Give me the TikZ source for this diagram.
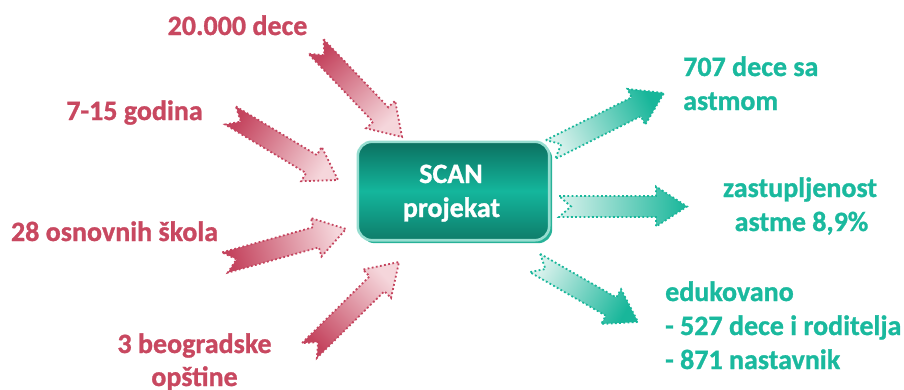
\documentclass[tikz,border=0pt]{standalone}
\usepackage{fontspec}
\setmainfont{Carlito}[BoldFont={Carlito Bold}, BoldFeatures={FakeBold=1}]
\usetikzlibrary{calc}

\definecolor{rosetext}{RGB}{200,72,96}
\definecolor{rosedark}{RGB}{196,68,94}
\definecolor{roselight}{RGB}{245,214,219}
\definecolor{tealtext}{RGB}{26,185,158}
\definecolor{tealdark}{RGB}{24,182,154}
\definecolor{teallight}{RGB}{216,241,236}
\definecolor{boxtop}{RGB}{11,112,96}
\definecolor{boxmid}{RGB}{20,182,156}
\definecolor{boxbot}{RGB}{14,124,106}
\definecolor{boxrim}{RGB}{150,221,208}
\definecolor{boxshade}{RGB}{40,178,152}

% notched block arrow: style, tail, tip, shading angle
\newcommand\notchedarrow[4]{%
  \coordinate (nb) at ($(#3)!31pt!(#2)$);
  \path[#1, shading angle=#4]
    ($(#2)!10.5pt!90:(#3)$) -- ($(nb)!10.5pt!90:(#3)$) -- ($(nb)!20pt!90:(#3)$)
    -- (#3)
    -- ($(nb)!20pt!-90:(#3)$) -- ($(nb)!10.5pt!-90:(#3)$) -- ($(#2)!10.5pt!-90:(#3)$)
    -- ($(#2)!12pt!(#3)$) -- cycle;
}

\begin{document}
\begin{tikzpicture}[x=1pt,y=-1pt,
  lbl/.style={inner sep=0pt, font=\fontsize{28}{34}\selectfont\bfseries},
  redlbl/.style={lbl, text=rosetext},
  teallbl/.style={lbl, text=tealtext},
  dotline/.style={line width=1.8pt, dash pattern=on 1.8pt off 2.4pt},
  inarrow/.style={dotline, draw=rosedark, bottom color=rosedark, top color=roselight},
  outarrow/.style={dotline, draw=tealdark, bottom color=teallight, top color=tealdark},
]
\useasboundingbox (0,0) rectangle (904,389);

% labels on the input side
\node[redlbl, anchor=base] (t20000) at (237.5,35) {20.000 dece};
\node[redlbl, anchor=base] (t715) at (134.5,120) {7-15 godina};
\node[redlbl, anchor=base] (t28) at (114.5,241) {28 osnovnih škola};
\node[redlbl, anchor=base] (t3a) at (194.5,353) {3 beogradske};
\node[redlbl, anchor=base] (t3b) at (194.5,386) {opštine};

% labels on the output side
\node[teallbl, anchor=base west] (t707a) at (683,76) {707 dece sa};
\node[teallbl, anchor=base west] (t707b) at (683,110) {astmom};
\node[teallbl, anchor=base] (tzas1) at (800,197) {zastupljenost};
\node[teallbl, anchor=base] (tzas2) at (801.5,231) {astme 8,9\%};
\node[teallbl, anchor=base west] (tedu1) at (665,301) {edukovano};
\node[teallbl, anchor=base west] (tedu2) at (665,335) {- 527 dece i roditelja};
\node[teallbl, anchor=base west] (tedu3) at (665,369) {- 871 nastavnik};

% central project box
\node[minimum width=191pt, minimum height=98pt, inner sep=0pt] (box) at (453.5,191) {};
\fill[boxshade, rounded corners=14pt]
  ($(box.south west)+(3,3)$) rectangle ($(box.north east)+(3,3)$);
\path[rounded corners=14pt, draw=boxrim, line width=2.6pt,
      top color=boxtop, bottom color=boxbot, middle color=boxmid]
  (box.south west) rectangle (box.north east);
\node[lbl, text=white, anchor=base] (scan1) at (451,183) {SCAN};
\node[lbl, text=white, anchor=base] (scan2) at (451.5,217) {projekat};

% arrow end points
\coordinate (a1s) at (316,46.5);  \coordinate (a1e) at (402,137);
\coordinate (a2s) at (230.5,115.5); \coordinate (a2e) at (338,180);
\coordinate (a3s) at (225,262.5); \coordinate (a3e) at (346,229);
\coordinate (a4s) at (309.5,350.5); \coordinate (a4e) at (399,262);
\coordinate (b1s) at (550.5,149.5); \coordinate (b1e) at (664,93);
\coordinate (b2s) at (559,206.5); \coordinate (b2e) at (687,206.5);
\coordinate (b3s) at (535,263);   \coordinate (b3e) at (638,322);

% arrows into the box
\notchedarrow{inarrow}{a1s}{a1e}{-136.5}
\notchedarrow{inarrow}{a2s}{a2e}{-121}
\notchedarrow{inarrow}{a3s}{a3e}{-74.5}
\notchedarrow{inarrow}{a4s}{a4e}{-45.3}

% arrows out of the box
\notchedarrow{outarrow}{b1s}{b1e}{-63.5}
\notchedarrow{outarrow}{b2s}{b2e}{-90}
\notchedarrow{outarrow}{b3s}{b3e}{-119.8}
\end{tikzpicture}
\end{document}
